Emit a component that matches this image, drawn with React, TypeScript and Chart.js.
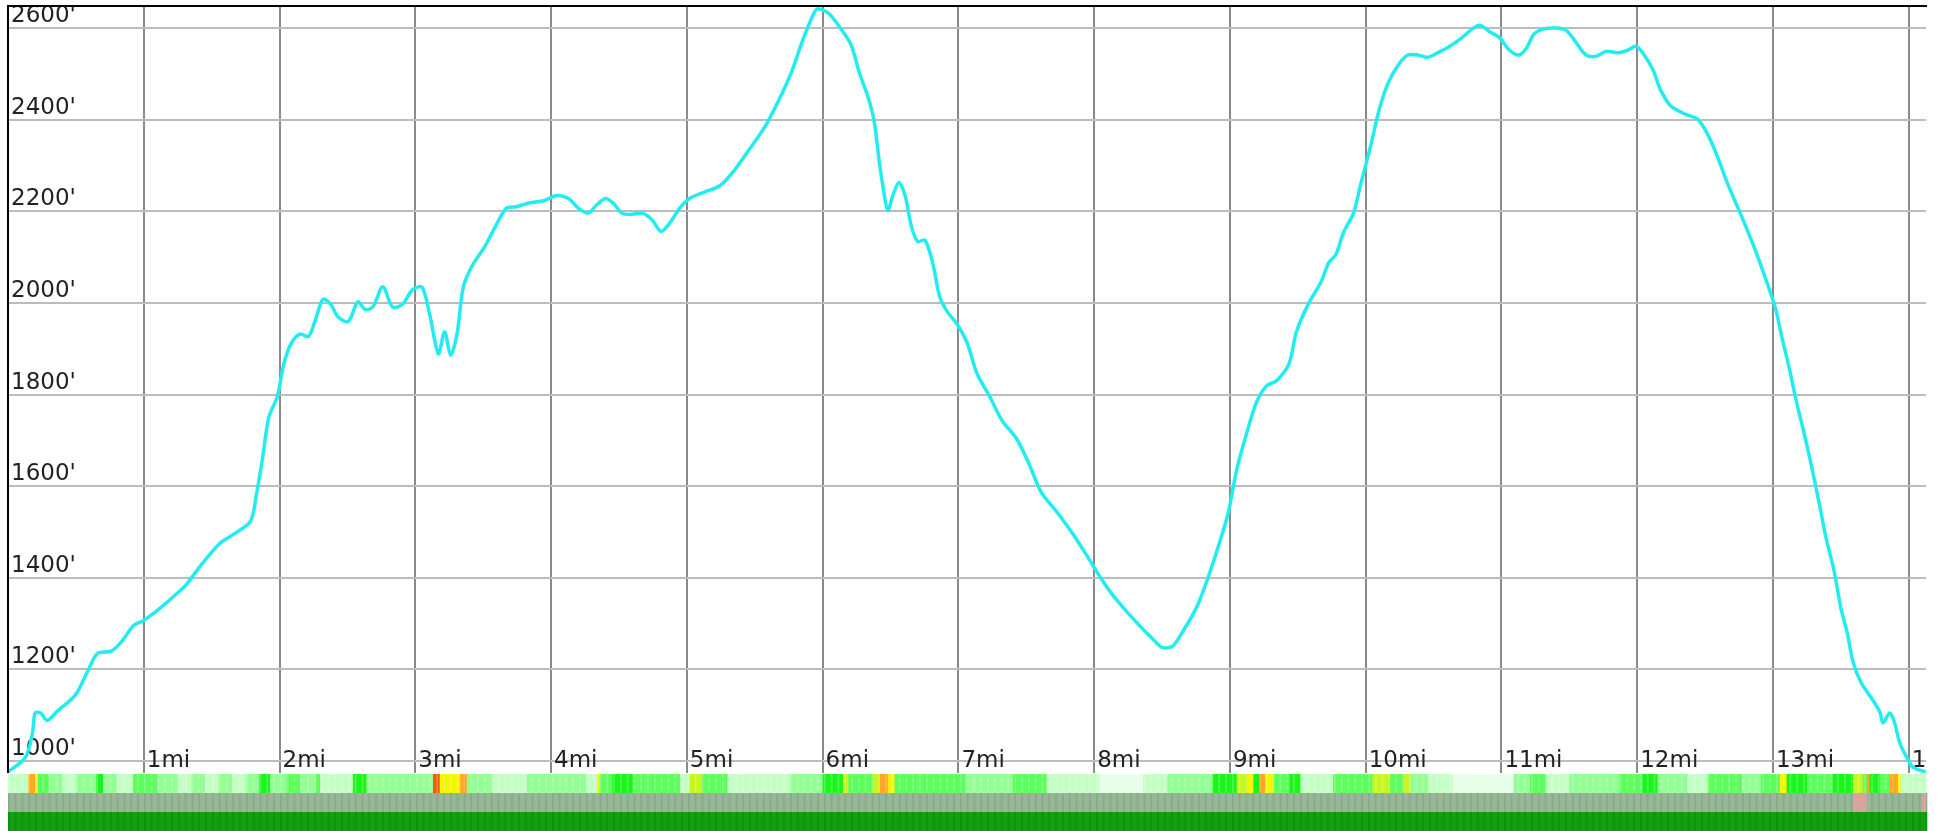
import React, { useEffect, useRef } from "react";
import { Chart, registerables } from "chart.js";

Chart.register(...registerables);

// distance along the route (miles)
const distanceMi = [
  0, 0.13, 0.18, 0.2, 0.24, 0.29, 0.37, 0.46, 0.51, 0.59,
  0.66, 0.76, 0.84, 0.925, 1.0, 1.07, 1.145, 1.23, 1.31, 1.42,
  1.556, 1.666, 1.785, 1.83, 1.876, 1.92, 1.985, 2.03, 2.085, 2.149,
  2.213, 2.26, 2.32, 2.377, 2.43, 2.505, 2.577, 2.63, 2.687, 2.76,
  2.833, 2.906, 2.98, 3.05, 3.107, 3.17, 3.216, 3.26, 3.307, 3.353,
  3.417, 3.508, 3.58, 3.672, 3.745, 3.836, 3.946, 4.037, 4.128, 4.2,
  4.274, 4.33, 4.4, 4.456, 4.52, 4.584, 4.675, 4.748, 4.81, 4.876,
  4.948, 5.02, 5.13, 5.24, 5.33, 5.45, 5.57, 5.68, 5.77, 5.843,
  5.916, 5.96, 6.04, 6.115, 6.207, 6.27, 6.335, 6.38, 6.417, 6.444,
  6.48, 6.517, 6.562, 6.608, 6.654, 6.7, 6.754, 6.81, 6.863, 6.918,
  6.99, 7.064, 7.137, 7.228, 7.32, 7.43, 7.52, 7.61, 7.73, 7.85,
  7.96, 8.05, 8.14, 8.25, 8.34, 8.43, 8.5, 8.578, 8.67, 8.76,
  8.83, 8.915, 8.988, 9.05, 9.125, 9.197, 9.27, 9.343, 9.435, 9.49,
  9.58, 9.67, 9.728, 9.78, 9.836, 9.91, 9.96, 10.036, 10.1, 10.164,
  10.24, 10.31, 10.383, 10.456, 10.53, 10.62, 10.71, 10.785, 10.84, 10.912,
  10.985, 11.058, 11.13, 11.186, 11.24, 11.313, 11.404, 11.477, 11.55, 11.623,
  11.696, 11.77, 11.86, 11.933, 11.988, 12.04, 12.116, 12.17, 12.244, 12.353,
  12.444, 12.517, 12.59, 12.662, 12.735, 12.808, 12.88, 12.955, 13.02, 13.064,
  13.12, 13.173, 13.228, 13.28, 13.337, 13.39, 13.45, 13.5, 13.547, 13.59,
  13.648, 13.735, 13.79, 13.81, 13.86, 13.89, 13.935, 13.987, 14.03, 14.127,
];

// elevation (feet)
const elevationFt = [
  976, 1009, 1061, 1105, 1105, 1089, 1111, 1133, 1150, 1198,
  1235, 1240, 1262, 1296, 1307, 1322, 1340, 1362, 1384, 1427,
  1474, 1496, 1523, 1582, 1663, 1749, 1797, 1865, 1911, 1932,
  1927, 1959, 2008, 1997, 1970, 1959, 2002, 1986, 1991, 2035,
  1991, 1997, 2029, 2034, 1973, 1889, 1937, 1886, 1932, 2034,
  2080, 2121, 2161, 2207, 2210, 2218, 2223, 2234, 2228, 2207,
  2196, 2212, 2228, 2218, 2196, 2193, 2196, 2180, 2156, 2175,
  2207, 2228, 2242, 2255, 2282, 2331, 2382, 2444, 2503, 2565,
  2619, 2641, 2633, 2606, 2565, 2503, 2449, 2396, 2309, 2255,
  2202, 2234, 2263, 2234, 2167, 2134, 2137, 2088, 2013, 1981,
  1954, 1913, 1846, 1797, 1744, 1703, 1649, 1587, 1542, 1493,
  1442, 1399, 1361, 1323, 1294, 1267, 1248, 1251, 1291, 1339,
  1393, 1469, 1542, 1636, 1717, 1784, 1819, 1830, 1867, 1937,
  1999, 2045, 2088, 2105, 2153, 2196, 2255, 2342, 2422, 2479,
  2519, 2541, 2541, 2536, 2546, 2560, 2579, 2598, 2606, 2592,
  2579, 2552, 2541, 2557, 2587, 2598, 2600, 2595, 2568, 2541,
  2538, 2549, 2546, 2552, 2560, 2546, 2509, 2466, 2431, 2412,
  2401, 2369, 2320, 2263, 2212, 2161, 2107, 2045, 1986, 1927,
  1857, 1784, 1717, 1649, 1568, 1488, 1415, 1334, 1280, 1216,
  1172, 1133, 1105, 1083, 1105, 1089, 1039, 1007, 987, 976,
];

const elevationTicks = [1000, 1200, 1400, 1600, 1800, 2000, 2200, 2400, 2600];
const elevationTickLabels = ["1000'", "1200'", "1400'", "1600'", "1800'", "2000'", "2200'", "2400'", "2600'"];
const mileTicks = [1, 2, 3, 4, 5, 6, 7, 8, 9, 10, 11, 12, 13, 14];
const mileTickLabels = ["1mi", "2mi", "3mi", "4mi", "5mi", "6mi", "7mi", "8mi", "9mi", "10mi", "11mi", "12mi", "13mi", "14mi"];

const X_MIN = 0;
const X_MAX = 14.127;
const Y_MIN = 974;
const Y_MAX = 2648;

// top colour band: segment start (mi) and intensity class
const bandStarts = [
  0, 0.15, 0.2, 0.22, 0.3, 0.4, 0.5, 0.65, 0.7, 0.8,
  0.92, 1.1, 1.25, 1.35, 1.45, 1.55, 1.65, 1.75, 1.85, 1.93,
  2.05, 2.15, 2.27, 2.3, 2.54, 2.64, 3.13, 3.18, 3.33, 3.38,
  3.57, 3.82, 4.26, 4.34, 4.36, 4.45, 4.6, 4.95, 5.02, 5.11,
  5.3, 5.76, 6.0, 6.15, 6.19, 6.37, 6.42, 6.48, 6.53, 7.05,
  7.4, 7.65, 8.04, 8.36, 8.54, 8.87, 9.05, 9.13, 9.17, 9.22,
  9.26, 9.32, 9.44, 9.52, 9.76, 10.05, 10.18, 10.28, 10.33, 10.46,
  10.64, 11.09, 11.21, 11.33, 11.5, 11.87, 12.04, 12.15, 12.37, 12.52,
  12.77, 12.91, 13.05, 13.1, 13.25, 13.44, 13.59, 13.66, 13.69, 13.71,
  13.79, 13.86, 13.92, 13.94,
];
const bandClasses = [
  "L", "O", "Y", "G", "M", "L", "M", "B", "M", "L",
  "G", "M", "L", "M", "L", "M", "L", "M", "B", "M",
  "G", "M", "G", "L", "B", "M", "R", "Y", "O", "M",
  "L", "M", "L", "Y", "G", "B", "G", "L", "YG", "G",
  "L", "M", "B", "YG", "G", "YG", "O", "Y", "G", "M",
  "G", "L", "W", "L", "M", "B", "YG", "Y", "B", "O",
  "Y", "G", "B", "L", "G", "YG", "G", "YG", "M", "L",
  "W", "M", "G", "L", "M", "G", "B", "M", "L", "G",
  "M", "G", "Y", "B", "G", "B", "YG", "G", "O", "B",
  "G", "O", "Y", "L",
];
const classColors: Record<string, string> = {
  W: "#e6ffe6",
  L: "#c4ffc4",
  M: "#94ff94",
  G: "#5cff5c",
  B: "#1cf51c",
  YG: "#c8f520",
  Y: "#f5f500",
  O: "#ffa622",
  R: "#f55a10",
};

// second band: highlighted (pink) stretches
const pinkStarts = [13.59, 14.1];
const pinkEnds = [13.69, 14.127];

const FONT = '23px "DejaVu Sans"';

const overlayPlugin = {
  id: "overlay",
  beforeDatasetsDraw(chart: any) {
    const { ctx, chartArea, scales } = chart;
    const xs = scales.x;
    const ys = scales.y;
    ctx.save();
    ctx.beginPath();
    ctx.rect(chartArea.left, chartArea.top, chartArea.right - chartArea.left, chartArea.bottom - chartArea.top);
    ctx.clip();
    ctx.font = FONT;
    ctx.fillStyle = "#222";
    ctx.textBaseline = "alphabetic";
    ctx.textAlign = "left";
    elevationTicks.forEach((v, i) => {
      const y = ys.getPixelForValue(v);
      ctx.fillText(elevationTickLabels[i], chartArea.left + 3, y - 6);
    });
    mileTicks.forEach((v, i) => {
      const x = xs.getPixelForValue(v);
      ctx.fillText(mileTickLabels[i], x + 3, chartArea.bottom - 6);
    });
    ctx.restore();
  },
  afterDraw(chart: any) {
    const { ctx, chartArea, scales } = chart;
    const xs = scales.x;
    ctx.save();
    // frame: top and left
    ctx.fillStyle = "#000";
    ctx.fillRect(chartArea.left - 1, chartArea.top - 1, chartArea.right - chartArea.left + 2, 2);
    ctx.fillRect(chartArea.left - 1, chartArea.top - 1, 2, chartArea.bottom - chartArea.top + 1);

    const rowH = 19;
    const top1 = chartArea.bottom + 1;
    const top2 = top1 + rowH;
    const top3 = top2 + rowH;
    // band 1
    bandStarts.forEach((s, i) => {
      const e = i + 1 < bandStarts.length ? bandStarts[i + 1] : X_MAX;
      const x0 = xs.getPixelForValue(s);
      const x1 = xs.getPixelForValue(e);
      ctx.fillStyle = classColors[bandClasses[i]];
      ctx.fillRect(x0, top1, x1 - x0 + 0.5, rowH);
    });
    // band 2 and 3 with fine texture stripes
    const x0 = xs.getPixelForValue(X_MIN);
    const x1 = xs.getPixelForValue(X_MAX);
    ctx.fillStyle = "#97b797";
    ctx.fillRect(x0, top2, x1 - x0, rowH);
    ctx.fillStyle = "#12a012";
    ctx.fillRect(x0, top3, x1 - x0, rowH + 10);
    let k = 0;
    for (let x = x0; x < x1; x += 3.4, k++) {
      if (k % 2 === 0) {
        ctx.fillStyle = "rgba(255,255,255,0.22)";
        ctx.fillRect(x, top1, 1.7, rowH);
        ctx.fillStyle = "#88aa88";
        ctx.fillRect(x, top2, 1.7, rowH);
        ctx.fillStyle = "#0a940a";
        ctx.fillRect(x, top3, 1.7, rowH + 10);
      }
    }
    pinkStarts.forEach((s, i) => {
      const a = xs.getPixelForValue(s);
      const b = xs.getPixelForValue(pinkEnds[i]);
      ctx.fillStyle = "#dba3a0";
      ctx.fillRect(a, top2, b - a, rowH);
    });
    ctx.restore();
  },
};

export default function App() {
  const canvasRef = useRef<HTMLCanvasElement | null>(null);

  useEffect(() => {
    document.body.style.margin = "0";
    const canvas = canvasRef.current;
    if (!canvas) return;
    const points = distanceMi.map((d, i) => ({ x: d, y: elevationFt[i] }));
    const chart = new Chart(canvas, {
      type: "line",
      data: {
        datasets: [
          {
            data: points,
            borderColor: "#22ecf0",
            borderWidth: 3.5,
            pointRadius: 0,
            tension: 0.3,
            fill: false,
          },
        ],
      },
      options: {
        animation: false,
        responsive: false,
        maintainAspectRatio: false,
        layout: { padding: { left: 8, top: 6, right: 14, bottom: 58 } },
        plugins: { legend: { display: false }, tooltip: { enabled: false }, title: { display: false } },
        scales: {
          x: {
            type: "linear",
            min: X_MIN,
            max: X_MAX,
            afterBuildTicks: (scale: any) => {
              scale.ticks = mileTicks.map((v) => ({ value: v }));
            },
            ticks: { display: false },
            grid: { color: "#8a8a8a", lineWidth: 2, drawTicks: false },
            border: { display: false },
          },
          y: {
            type: "linear",
            min: Y_MIN,
            max: Y_MAX,
            afterBuildTicks: (scale: any) => {
              scale.ticks = elevationTicks.map((v) => ({ value: v }));
            },
            ticks: { display: false },
            grid: { color: "#bcbcbc", lineWidth: 2, drawTicks: false },
            border: { display: false },
          },
        },
      },
      plugins: [overlayPlugin],
    });
    return () => chart.destroy();
  }, []);

  return (
    <div style={{ width: 1940, height: 831 }}>
      <canvas ref={canvasRef} width={1940} height={831} style={{ display: "block" }} />
    </div>
  );
}
